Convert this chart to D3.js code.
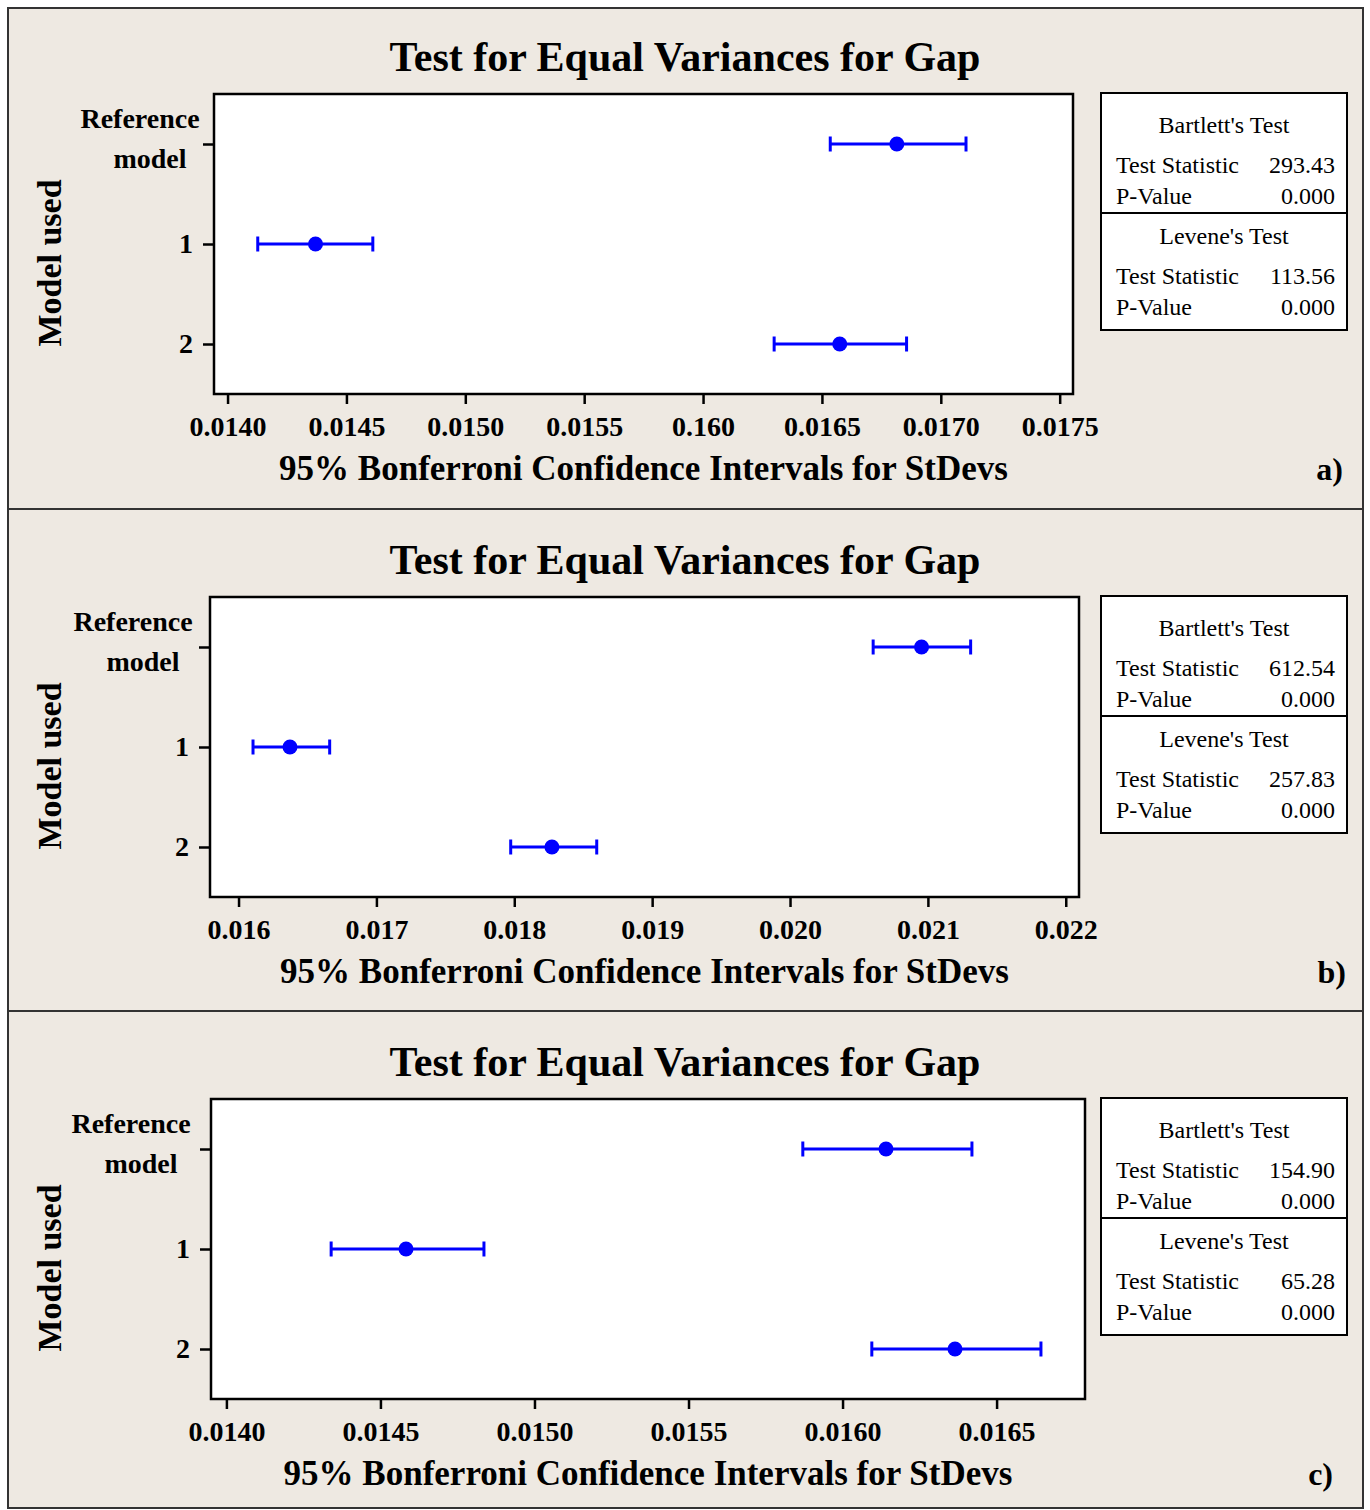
<!DOCTYPE html>
<html>
<head>
<meta charset="utf-8">
<title>Test for Equal Variances for Gap</title>
<script src="https://d3js.org/d3.v7.min.js"></script>
<style>
  body { margin: 0; background: #fff; }
  text { font-family: "Liberation Serif", "Times New Roman", serif; }
</style>
</head>
<body>
<div id="chart"></div>
<script>
// ---- data ----
const groups = ["Reference model", "1", "2"];

// panel a
const ticksA = [0.0140, 0.0145, 0.0150, 0.0155, 0.0160, 0.0165, 0.0170, 0.0175];
const tickLabelsA = ["0.0140", "0.0145", "0.0150", "0.0155", "0.160", "0.0165", "0.0170", "0.0175"];
const lowA = [0.016535, 0.014127, 0.016299];
const midA = [0.016815, 0.014370, 0.016575];
const highA = [0.017106, 0.014611, 0.016856];
const statsA = ["293.43", "0.000", "113.56", "0.000"];

// panel b
const ticksB = [0.016, 0.017, 0.018, 0.019, 0.020, 0.021, 0.022];
const tickLabelsB = ["0.016", "0.017", "0.018", "0.019", "0.020", "0.021", "0.022"];
const lowB = [0.020603, 0.016105, 0.017974];
const midB = [0.020954, 0.016373, 0.018273];
const highB = [0.021310, 0.016661, 0.018598];
const statsB = ["612.54", "0.000", "257.83", "0.000"];

// panel c
const ticksC = [0.0140, 0.0145, 0.0150, 0.0155, 0.0160, 0.0165];
const tickLabelsC = ["0.0140", "0.0145", "0.0150", "0.0155", "0.0160", "0.0165"];
const lowC = [0.015871, 0.014340, 0.016095];
const midC = [0.016141, 0.014583, 0.016365];
const highC = [0.016420, 0.014836, 0.016644];
const statsC = ["154.90", "0.000", "65.28", "0.000"];

const panelLetters = ["a)", "b)", "c)"];

// ---- layout ----
const W = 1370, H = 1510;
const serif = '"Liberation Serif", "Times New Roman", serif';

let panels = [
  { top: 8, bottom: 509, x0: 214, x1: 1073, y0: 94, dom: [0.013943, 0.017556],
    ticks: ticksA, labels: tickLabelsA, low: lowA, mid: midA, high: highA, stats: statsA,
    letterX: 1343, refDx: -74 },
  { top: 509, bottom: 1011, x0: 210, x1: 1079, y0: 597, dom: [0.015793, 0.022096],
    ticks: ticksB, labels: tickLabelsB, low: lowB, mid: midB, high: highB, stats: statsB,
    letterX: 1346, refDx: -77 },
  { top: 1011, bottom: 1508, x0: 211, x1: 1085, y0: 1099, dom: [0.013950, 0.016787],
    ticks: ticksC, labels: tickLabelsC, low: lowC, mid: midC, high: highC, stats: statsC,
    letterX: 1333, refDx: -80 }
];

let svg = d3.select("#chart")
  .append("svg")
    .attr("width", W)
    .attr("height", H);

svg.append("rect")
  .attr("width", W).attr("height", H)
  .attr("fill", "#fff");

panels.forEach((p, i) => {
  let g = svg.append("g").attr("class", "panel");
  let plotH = 300;
  let y1 = p.y0 + plotH;

  // panel background
  g.append("rect")
    .attr("x", 8).attr("y", p.top)
    .attr("width", 1355).attr("height", p.bottom - p.top)
    .attr("fill", "#eee9e2")
    .attr("stroke", "#333")
    .attr("stroke-width", 2);

  // title
  g.append("text")
    .attr("x", 685).attr("y", p.y0 - 23)
    .attr("text-anchor", "middle")
    .style("font-size", "42px").style("font-weight", "bold")
    .text("Test for Equal Variances for Gap");

  // plot area
  g.append("rect")
    .attr("x", p.x0).attr("y", p.y0)
    .attr("width", p.x1 - p.x0).attr("height", plotH)
    .attr("fill", "#fff")
    .attr("stroke", "#000")
    .attr("stroke-width", 2.5);

  let x = d3.scaleLinear().domain(p.dom).range([p.x0, p.x1]);
  let y = d3.scalePoint().domain(groups).range([p.y0, y1]).padding(0.5);

  // x axis
  let xAxis = d3.axisBottom(x)
    .tickValues(p.ticks)
    .tickSize(9)
    .tickPadding(12)
    .tickFormat((d, k) => p.labels[k]);
  let gx = g.append("g")
    .attr("transform", `translate(0,${y1 + 1})`)
    .call(xAxis);
  gx.select(".domain").remove();
  gx.selectAll(".tick line").attr("stroke", "#000").attr("stroke-width", 2.5);
  gx.selectAll(".tick text")
    .attr("fill", "#000")
    .style("font-family", serif)
    .style("font-size", "28px").style("font-weight", "bold");

  // y axis
  let yAxis = d3.axisLeft(y)
    .tickSize(10)
    .tickPadding(10)
    .tickFormat(d => d === "Reference model" ? "" : d);
  let gy = g.append("g")
    .attr("transform", `translate(${p.x0 - 1},0)`)
    .call(yAxis);
  gy.select(".domain").remove();
  gy.selectAll(".tick line").attr("stroke", "#000").attr("stroke-width", 2.5);
  gy.selectAll(".tick text")
    .attr("fill", "#000")
    .style("font-family", serif)
    .style("font-size", "28px").style("font-weight", "bold");

  let refLabel = g.append("text")
    .attr("text-anchor", "middle")
    .style("font-size", "28px").style("font-weight", "bold");
  refLabel.append("tspan")
    .attr("x", p.x0 + p.refDx).attr("y", y("Reference model") - 16)
    .text("Reference");
  refLabel.append("tspan")
    .attr("x", p.x0 + p.refDx + 10).attr("y", y("Reference model") + 24)
    .text("model");

  // axis titles
  g.append("text")
    .attr("x", (p.x0 + p.x1) / 2).attr("y", y1 + 86)
    .attr("text-anchor", "middle")
    .style("font-size", "35px").style("font-weight", "bold")
    .text("95% Bonferroni Confidence Intervals for StDevs");

  g.append("text")
    .attr("transform", `translate(61,${p.y0 + plotH / 2 + 19}) rotate(-90)`)
    .attr("text-anchor", "middle")
    .style("font-size", "34px").style("font-weight", "bold")
    .text("Model used");

  g.append("text")
    .attr("x", p.letterX).attr("y", y1 + 86)
    .attr("text-anchor", "end")
    .style("font-size", "32px").style("font-weight", "bold")
    .text(panelLetters[i]);

  // intervals
  let rows = groups.map((name, k) => ({ name, lo: p.low[k], mid: p.mid[k], hi: p.high[k] }));
  let marks = g.append("g").attr("class", "intervals");
  marks.selectAll(".whisker")
    .data(rows)
    .join("line")
      .attr("class", "whisker")
      .attr("x1", d => x(d.lo)).attr("x2", d => x(d.hi))
      .attr("y1", d => y(d.name)).attr("y2", d => y(d.name))
      .attr("stroke", "#0000ff").attr("stroke-width", 3);
  marks.selectAll(".capL")
    .data(rows)
    .join("line")
      .attr("class", "capL")
      .attr("x1", d => x(d.lo)).attr("x2", d => x(d.lo))
      .attr("y1", d => y(d.name) - 7.5).attr("y2", d => y(d.name) + 7.5)
      .attr("stroke", "#0000ff").attr("stroke-width", 3);
  marks.selectAll(".capR")
    .data(rows)
    .join("line")
      .attr("class", "capR")
      .attr("x1", d => x(d.hi)).attr("x2", d => x(d.hi))
      .attr("y1", d => y(d.name) - 7.5).attr("y2", d => y(d.name) + 7.5)
      .attr("stroke", "#0000ff").attr("stroke-width", 3);
  marks.selectAll("circle")
    .data(rows)
    .join("circle")
      .attr("cx", d => x(d.mid))
      .attr("cy", d => y(d.name))
      .attr("r", 7.5)
      .attr("fill", "#0000ff");

  // stats box
  let bx0 = 1101, bx1 = 1347, bt = p.y0 - 1;
  let box = g.append("g").attr("class", "stats");
  box.append("rect")
    .attr("x", bx0).attr("y", bt)
    .attr("width", bx1 - bx0).attr("height", 237)
    .attr("fill", "#fff").attr("stroke", "#000").attr("stroke-width", 2);
  box.append("line")
    .attr("x1", bx0).attr("x2", bx1)
    .attr("y1", bt + 120).attr("y2", bt + 120)
    .attr("stroke", "#000").attr("stroke-width", 2);

  let heads = [["Bartlett's Test", 40], ["Levene's Test", 151]];
  heads.forEach(h => {
    box.append("text")
      .attr("x", (bx0 + bx1) / 2).attr("y", bt + h[1])
      .attr("text-anchor", "middle")
      .style("font-size", "24px")
      .text(h[0]);
  });
  let rowsS = [["Test Statistic", 80], ["P-Value", 111], ["Test Statistic", 191], ["P-Value", 222]];
  rowsS.forEach((r, k) => {
    box.append("text")
      .attr("x", bx0 + 15).attr("y", bt + r[1])
      .style("font-size", "24px")
      .text(r[0]);
    box.append("text")
      .attr("x", bx1 - 12).attr("y", bt + r[1])
      .attr("text-anchor", "end")
      .style("font-size", "24px")
      .text(p.stats[k]);
  });
});
</script>
</body>
</html>
